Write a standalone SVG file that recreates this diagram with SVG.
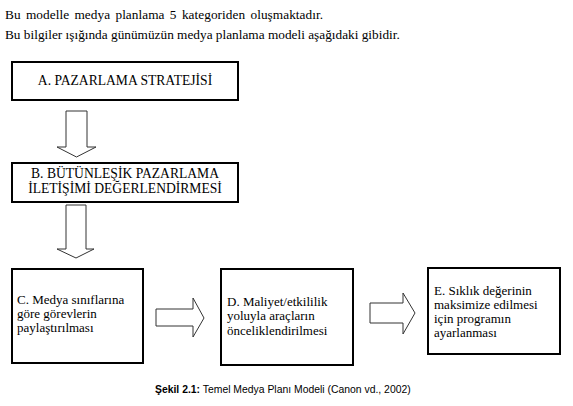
<svg xmlns="http://www.w3.org/2000/svg" width="573" height="406" viewBox="0 0 573 406">
<style>
.t{font-family:"Liberation Serif","Times New Roman",serif;font-size:13px;fill:#000}
.h{font-size:13.3px}
.c{font-size:13.6px}
.box{fill:#fff;stroke:#000;stroke-width:2}
.arr{fill:#fff;stroke:#333;stroke-width:1}
.cap{font-family:"Liberation Sans",Arial,sans-serif;font-size:10.4px;fill:#000}
</style>
<rect width="573" height="406" fill="#fff"/>
<text class="t h" x="5" y="19" textLength="318" lengthAdjust="spacing" style="word-spacing:2px">Bu modelle medya planlama 5 kategoriden oluşmaktadır.</text>
<text class="t h" x="5" y="39">Bu bilgiler ışığında günümüzün medya planlama modeli aşağıdaki gibidir.</text>
<g id="connectors">
<polygon class="arr" points="66,111 87,111 87,147 96,147 76.5,157 57,147 66,147"/>
<polygon class="arr" points="66,205 86,205 86,249 94,249 76,258 57,249 66,249"/>
<polygon class="arr" points="156,309 193,309 193,298 204,318 193,337 193,326 156,326"/>
<polygon class="arr" points="370,303 403,303 403,293 415,313 403,334 403,323 370,323"/>
</g>
<g id="nodeA">
<rect class="box" x="12" y="62" width="226" height="38"/>
<text class="t c" x="125" y="85" text-anchor="middle">A. PAZARLAMA STRATEJİSİ</text>
</g>
<g id="nodeB">
<rect class="box" x="12" y="163" width="226" height="39"/>
<text class="t c" x="125" y="178" text-anchor="middle">B. BÜTÜNLEŞİK PAZARLAMA</text>
<text class="t c" x="125" y="193" text-anchor="middle">İLETİŞİMİ DEĞERLENDİRMESİ</text>
</g>
<g id="nodeC">
<rect class="box" x="12" y="269" width="131" height="94"/>
<text class="t" x="17" y="304">C. Medya sınıflarına</text>
<text class="t" x="17" y="318">göre görevlerin</text>
<text class="t" x="17" y="332">paylaştırılması</text>
</g>
<g id="nodeD">
<rect class="box" x="221" y="269" width="132" height="96"/>
<text class="t" x="227" y="306">D. Maliyet/etkililik</text>
<text class="t" x="227" y="320">yoluyla araçların</text>
<text class="t" x="227" y="335">önceliklendirilmesi</text>
</g>
<g id="nodeE">
<rect class="box" x="428" y="268" width="132" height="86"/>
<text class="t" x="434" y="295">E. Sıklık değerinin</text>
<text class="t" x="434" y="309">maksimize edilmesi</text>
<text class="t" x="434" y="323">için programın</text>
<text class="t" x="434" y="337">ayarlanması</text>
</g>
<text class="cap" x="155" y="393"><tspan font-weight="bold">Şekil 2.1:</tspan> Temel Medya Planı Modeli (Canon vd., 2002)</text>
</svg>
